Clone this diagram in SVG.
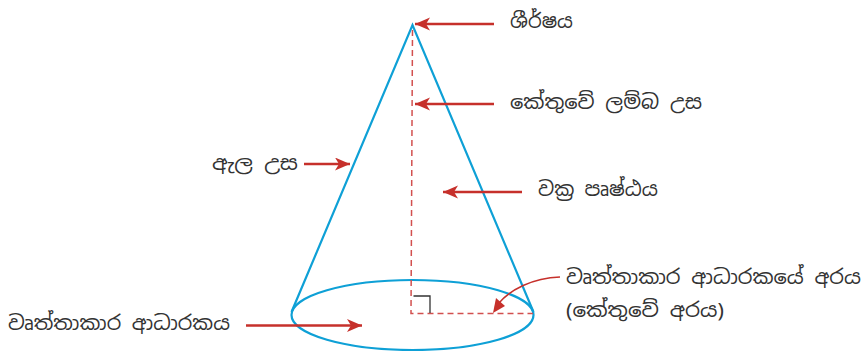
<svg xmlns="http://www.w3.org/2000/svg" width="863" height="351" viewBox="0 0 863 351">
<style>
.lbl{font-family:"Noto Sans","Noto Sans Sinhala","Liberation Sans",sans-serif;font-size:20px;fill:#333;word-spacing:5px}
.cone{fill:none;stroke:#0ea0d6;stroke-width:2.2}
.dash{fill:none;stroke:#d2504f;stroke-width:1.5;stroke-dasharray:6 4}
.arr{fill:none;stroke:#c6302b;stroke-width:2.4;marker-end:url(#ah)}
.curve{fill:none;stroke:#c6302b;stroke-width:1.5}
</style>
<defs>
<marker id="ah" markerUnits="userSpaceOnUse" markerWidth="16" markerHeight="14" refX="15" refY="6.5" orient="auto">
<path d="M0 0L15 6.5L0 13L4 6.5Z" fill="#c6302b"/>
</marker>
</defs>
<rect width="863" height="351" fill="#fff"/>
<g id="cone">
<path class="cone" d="M291.500 312L412.500 25L533.500 312"/>
<ellipse class="cone" cx="412.500" cy="315" rx="121" ry="35"/>
</g>
<g id="height-lines">
<path class="dash" d="M412.500 30L411 313.500H533"/>
<path d="M413.500 296H430V313" fill="none" stroke="#333" stroke-width="1.3"/>
</g>
<g id="connectors">
<path class="arr" d="M494 24H415"/>
<path class="arr" d="M494 104H415"/>
<path class="arr" d="M522 192H443"/>
<path class="arr" d="M304 164H350"/>
<path class="arr" d="M246 325.500H362"/>
<path class="curve" d="M560 277C532 278 510 290 499 303"/>
<path d="M493 313L496 298L505 306Z" fill="#c6302b"/>
</g>
<g id="label-apex"><text class="lbl" x="510" y="28" textLength="63" lengthAdjust="spacingAndGlyphs">ශීර්ෂය</text></g>
<g id="label-height"><text class="lbl" x="510" y="109" textLength="192" lengthAdjust="spacingAndGlyphs">කේතුවේ ලම්බ උස</text></g>
<g id="label-surface"><text class="lbl" x="538" y="196" textLength="120" lengthAdjust="spacingAndGlyphs">වක්‍ර පෘෂ්ඨය</text></g>
<g id="label-slant"><text class="lbl" x="212" y="170" textLength="86" lengthAdjust="spacingAndGlyphs">ඇල උස</text></g>
<g id="label-base"><text class="lbl" x="8" y="330" textLength="222" lengthAdjust="spacingAndGlyphs">වෘත්තාකාර ආධාරකය</text></g>
<g id="label-radius">
<text class="lbl" x="566" y="284" textLength="295" lengthAdjust="spacingAndGlyphs">වෘත්තාකාර ආධාරකයේ අරය</text>
<text class="lbl" x="566" y="317" textLength="158" lengthAdjust="spacingAndGlyphs">(කේතුවේ අරය)</text>
</g>
</svg>
